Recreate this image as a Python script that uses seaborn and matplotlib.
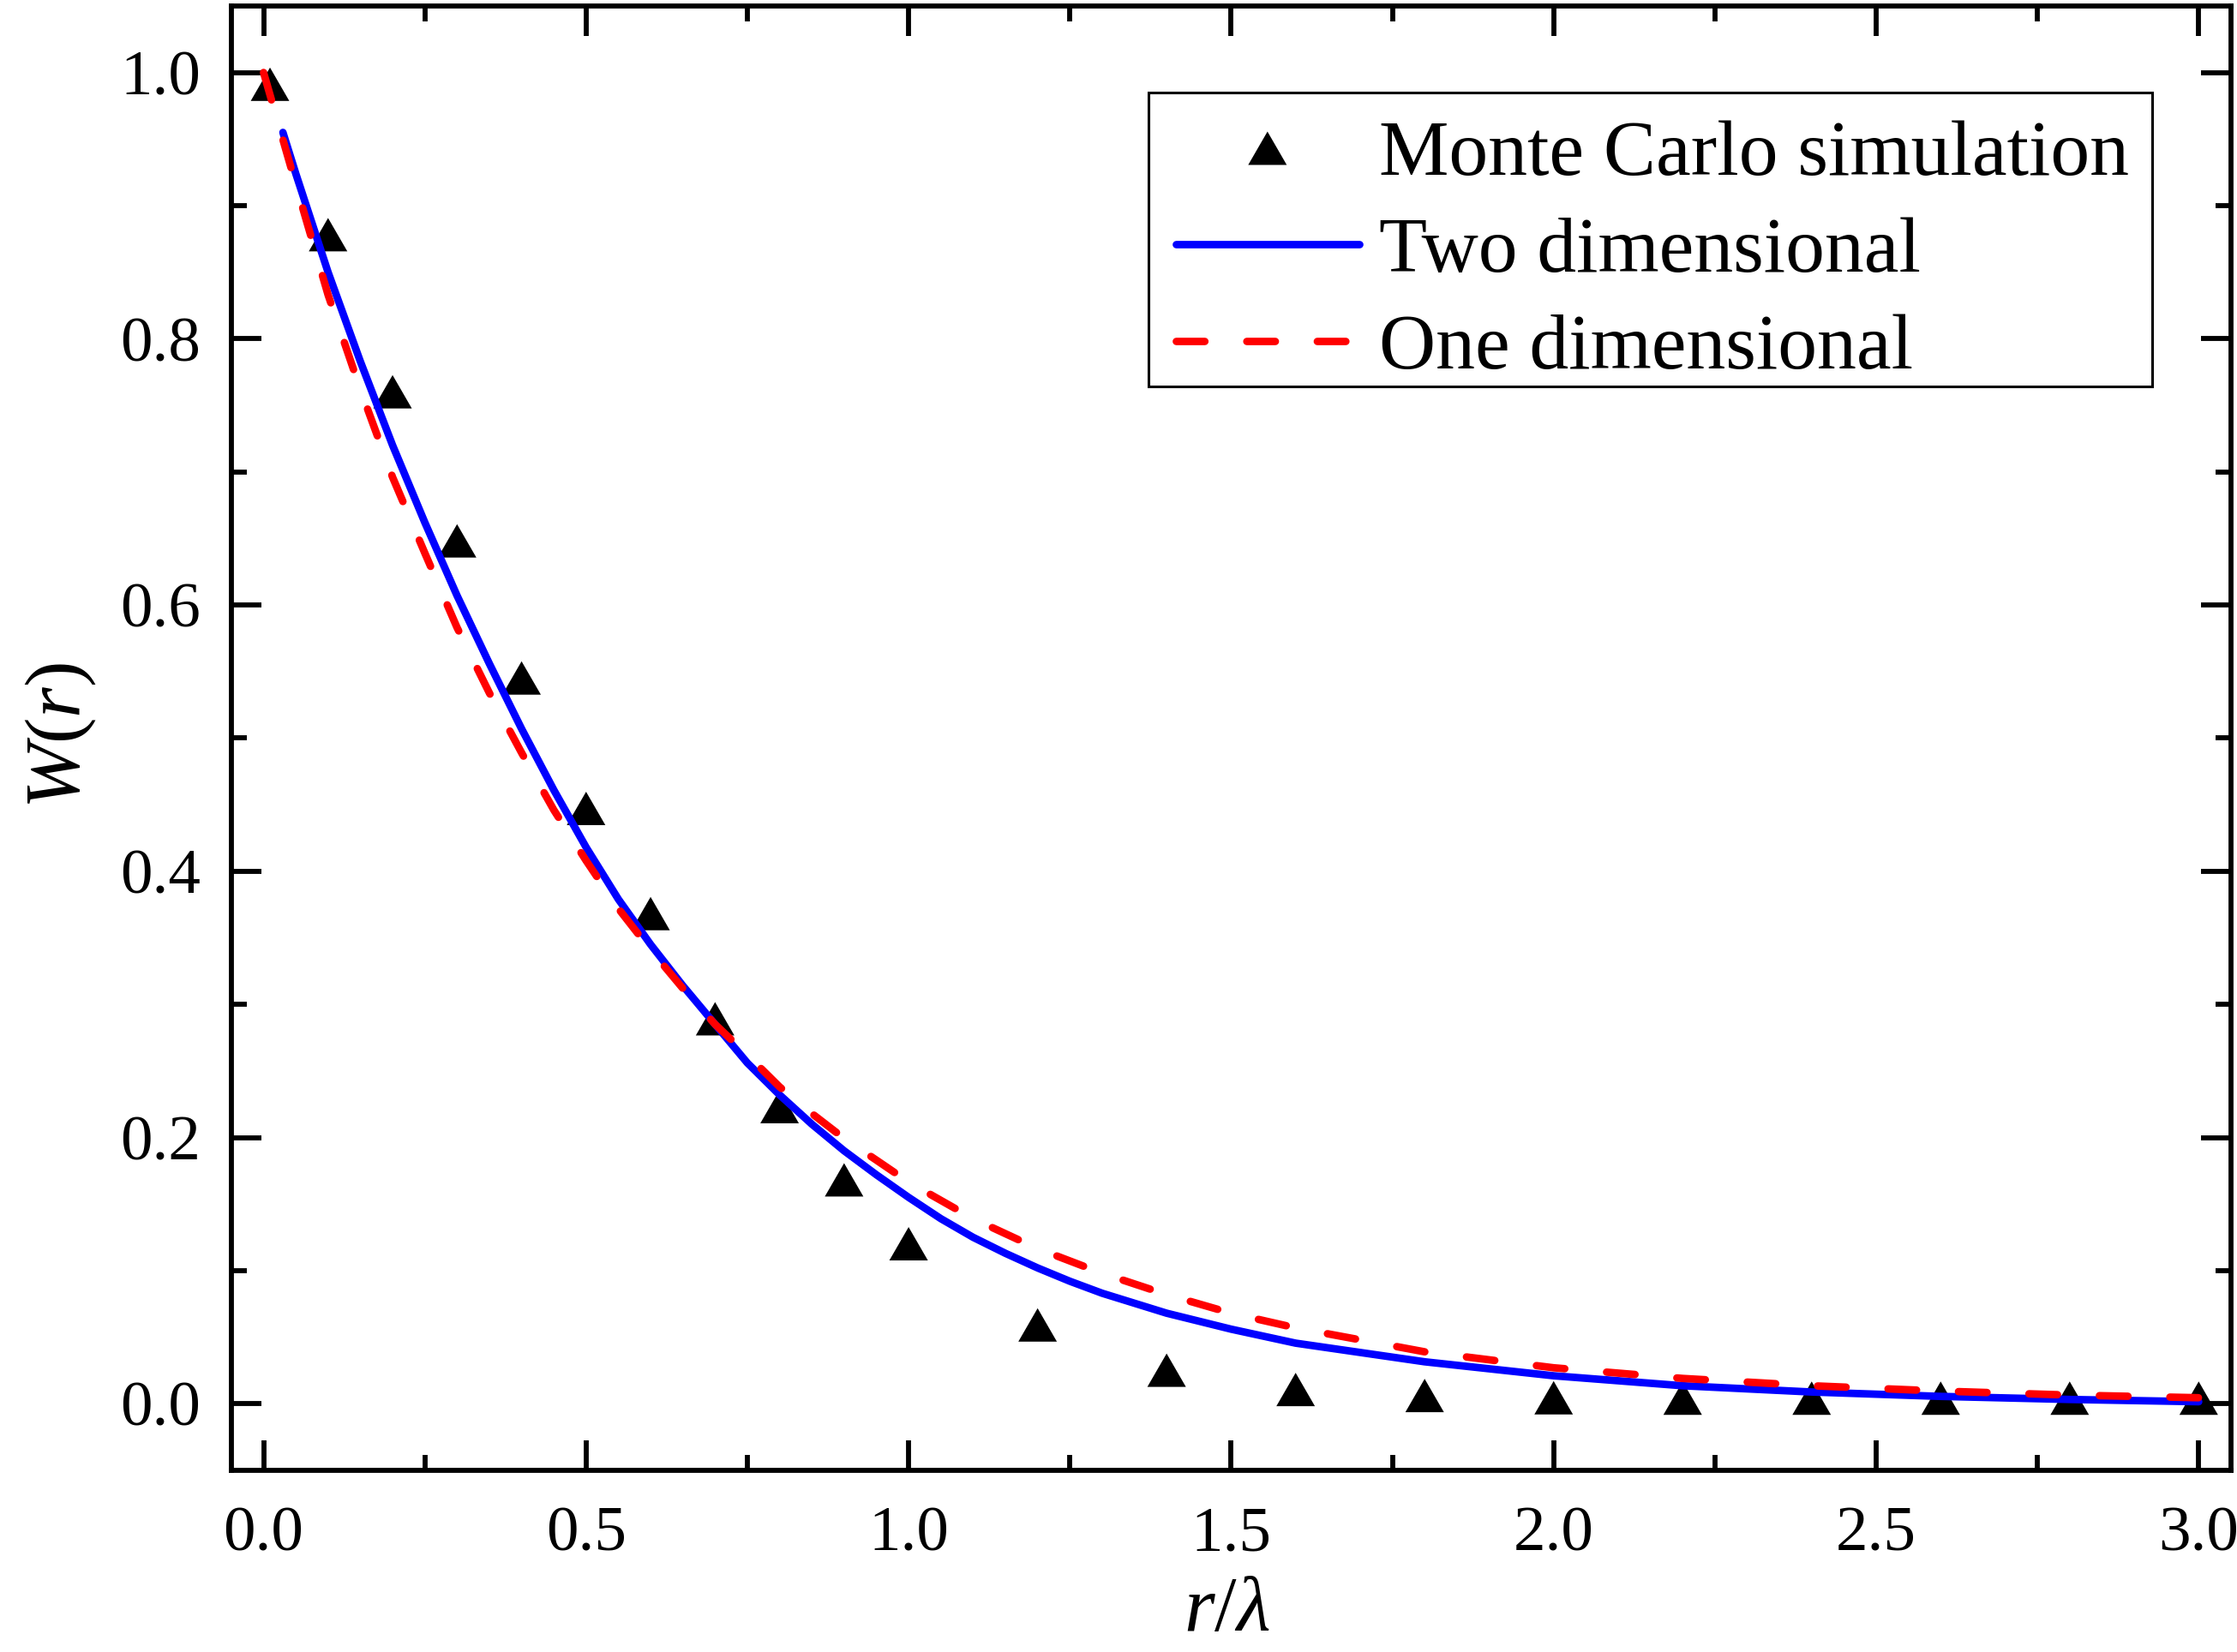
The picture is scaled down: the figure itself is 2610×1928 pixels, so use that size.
import matplotlib
matplotlib.use("Agg")
import matplotlib.pyplot as plt
import seaborn as sns
from matplotlib.path import Path
from matplotlib.patches import Rectangle
from matplotlib.ticker import MultipleLocator, FormatStrFormatter

# ---- data ----
mc_x = [0.01, 0.1, 0.2, 0.3, 0.4, 0.5, 0.6, 0.7, 0.8, 0.9, 1.0,
        1.2, 1.4, 1.6, 1.8, 2.0, 2.2, 2.4, 2.6, 2.8, 3.0]
mc_w = [0.987, 0.874, 0.756, 0.644, 0.541, 0.443, 0.364, 0.285, 0.219, 0.164, 0.116,
        0.055, 0.021, 0.0065, 0.002, 0.0003, 0.0, 0.0, 0.0, 0.0, 0.0]

two_x = [0.03, 0.05, 0.1, 0.15, 0.2, 0.25, 0.3, 0.35, 0.4, 0.45, 0.5, 0.55, 0.6,
         0.65, 0.7, 0.75, 0.8, 0.85, 0.9, 0.95, 1.0, 1.05, 1.1, 1.15, 1.2, 1.25,
         1.3, 1.4, 1.5, 1.6, 1.8, 2.0, 2.2, 2.4, 2.6, 2.8, 3.0]
two_w = [0.955, 0.924, 0.850, 0.783, 0.720, 0.662, 0.607, 0.556, 0.507, 0.461, 0.418,
         0.379, 0.345, 0.314, 0.285, 0.256, 0.232, 0.210, 0.190, 0.172, 0.155, 0.139,
         0.125, 0.113, 0.102, 0.092, 0.083, 0.068, 0.056, 0.0455, 0.0315, 0.021,
         0.0135, 0.0088, 0.0055, 0.0032, 0.0015]

one_x = [0.0, 0.05, 0.1, 0.15, 0.2, 0.25, 0.3, 0.35, 0.4, 0.45, 0.5, 0.55, 0.6,
         0.65, 0.7, 0.75, 0.8, 0.85, 0.9, 0.95, 1.0, 1.1, 1.2, 1.3, 1.4, 1.5, 1.6,
         1.8, 2.0, 2.2, 2.4, 2.6, 2.8, 3.0]
one_w = [1.0, 0.916, 0.833, 0.762, 0.696, 0.639, 0.583, 0.534, 0.489, 0.446, 0.408,
         0.372, 0.341, 0.312, 0.285, 0.262, 0.238, 0.218, 0.1993, 0.183, 0.1665, 0.139,
         0.1165, 0.098, 0.082, 0.068, 0.057, 0.039, 0.027, 0.019, 0.0135, 0.0095,
         0.0065, 0.0045]

labels = ["Monte Carlo simulation", "Two dimensional", "One dimensional"]
x_label = r"$r/\lambda$"
y_label = r"$W(r)$"

# ---- style ----
sns.set_theme(style="white")
plt.rcParams["font.family"] = ["Liberation Serif", "DejaVu Serif"]
plt.rcParams["mathtext.fontset"] = "custom"
plt.rcParams["mathtext.rm"] = "Liberation Serif"
plt.rcParams["mathtext.it"] = "Liberation Serif:italic"
plt.rcParams["mathtext.bf"] = "Liberation Serif:bold"
for key in ["text.color", "axes.labelcolor", "xtick.color", "ytick.color",
            "axes.edgecolor"]:
    plt.rcParams[key] = "black"

fig = plt.figure(figsize=(26.1, 19.28), dpi=100)
ax = fig.add_axes([0.1034, 0.110, 0.8939, 0.8864])

tri = Path([(0, 1), (-0.866, -0.5), (0.866, -0.5), (0, 1)],
           [Path.MOVETO, Path.LINETO, Path.LINETO, Path.CLOSEPOLY])

sns.scatterplot(x=mc_x, y=mc_w, marker=tri, s=37.4 ** 2, color="black",
                edgecolor="none", linewidth=0, ax=ax, label=labels[0], zorder=3)
sns.lineplot(x=two_x, y=two_w, color="#0000FF", linewidth=6.3, ax=ax,
             label=labels[1], estimator=None, sort=False, zorder=4,
             solid_capstyle="round", solid_joinstyle="round")
sns.lineplot(x=one_x, y=one_w, color="#FF0000", linewidth=6.3, ax=ax,
             label=labels[2], estimator=None, sort=False, zorder=5,
             linestyle=(0, (3.8, 5.6)), dash_capstyle="round")

ax.set_xlim(-0.05, 3.05)
ax.set_ylim(-0.05, 1.05)
ax.xaxis.set_major_locator(MultipleLocator(0.5))
ax.xaxis.set_minor_locator(MultipleLocator(0.25))
ax.yaxis.set_major_locator(MultipleLocator(0.2))
ax.yaxis.set_minor_locator(MultipleLocator(0.1))
ax.xaxis.set_major_formatter(FormatStrFormatter("%.1f"))
ax.yaxis.set_major_formatter(FormatStrFormatter("%.1f"))

for sp in ax.spines.values():
    sp.set_linewidth(4.2)
    sp.set_color("black")
    sp.set_visible(True)

ax.tick_params(which="both", direction="in", top=True, right=True,
               bottom=True, left=True, width=4.2, color="black")
ax.tick_params(which="major", length=25)
ax.tick_params(which="minor", length=13)
ax.tick_params(axis="x", which="major", pad=30, labelsize=54, labelcolor="black")
ax.tick_params(axis="y", which="major", pad=26, labelsize=54, labelcolor="black")

ax.set_xlabel(x_label, fontsize=66, color="black")
ax.set_ylabel(y_label, fontsize=66, color="black")
ax.xaxis.set_label_coords(0.498, -0.0726)
ax.yaxis.set_label_coords(-0.0669, 0.502)

# legend frame drawn as a separate box, legend content placed inside it
frame = Rectangle((0.5133, 0.7661), 0.4488, 0.1779, transform=fig.transFigure,
                  facecolor="white", edgecolor="black", linewidth=2.2,
                  zorder=6, clip_on=False)
ax.add_artist(frame)

leg = ax.legend(loc="upper left", bbox_to_anchor=(0.5255, 0.9277),
                bbox_transform=fig.transFigure, borderaxespad=0,
                fontsize=66, frameon=False, handlelength=2.34,
                handletextpad=0.25, labelspacing=0.33, borderpad=0,
                scatterpoints=1)
leg.set_zorder(7)
for t in leg.get_texts():
    t.set_color("black")

fig.savefig("out.png", dpi=100)
